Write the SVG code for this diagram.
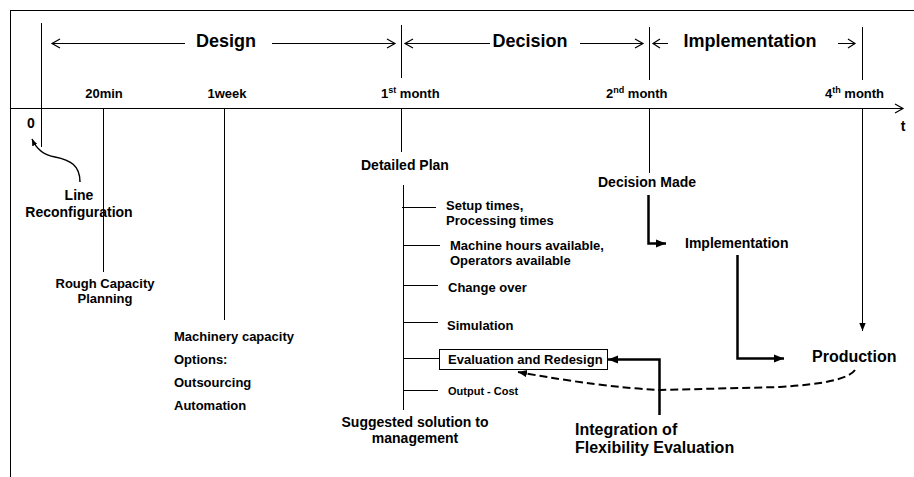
<svg xmlns="http://www.w3.org/2000/svg" width="914" height="477" viewBox="0 0 914 477">
<style>
text{font-family:"Liberation Sans",Arial,sans-serif;font-weight:bold;fill:#000}
.h{font-size:18px}
.s{font-size:13px}
.m{font-size:14px}
.l{font-size:16px}
.thin{stroke:#000;stroke-width:1;fill:none}
.thick{stroke:#000;stroke-width:2.5;fill:none}
.open{stroke:#000;stroke-width:1.2;fill:none}
.sup{font-size:9px}
</style>
<defs>
<marker id="fa" viewBox="0 0 10 10" refX="10" refY="5" markerWidth="4" markerHeight="4" orient="auto" markerUnits="strokeWidth">
<path d="M0,1 L10,5 L0,9 Z" fill="#000"/>
</marker>
<marker id="fa1" viewBox="0 0 10 10" refX="10" refY="5" markerWidth="8" markerHeight="8" orient="auto" markerUnits="strokeWidth">
<path d="M0,1 L10,5 L0,9 Z" fill="#000"/>
</marker>
<marker id="fad" viewBox="0 0 10 10" refX="10" refY="5" markerWidth="4.5" markerHeight="4.5" orient="auto" markerUnits="strokeWidth">
<path d="M0,1 L10,5 L0,9 Z" fill="#000"/>
</marker>
</defs>

<g id="frame">
<line class="thin" x1="10.5" y1="10" x2="10.5" y2="477"/>
<line class="thin" x1="10" y1="10.5" x2="914" y2="10.5"/>
</g>

<g id="timeline">
<line class="thin" x1="10" y1="108.5" x2="903" y2="108.5"/>
<path class="open" d="M895,104 L903,108.5 L895,113"/>
<text class="m" x="903" y="131" text-anchor="middle">t</text>
<text class="m" x="31" y="128" text-anchor="middle">0</text>
<line class="thin" x1="41.5" y1="23" x2="41.5" y2="147"/>
</g>

<g id="phase-design">
<line class="thin" x1="52" y1="43.5" x2="185" y2="43.5"/>
<path class="open" d="M60,39 L52,43.5 L60,48"/>
<text class="h" x="226" y="47" text-anchor="middle">Design</text>
<line class="thin" x1="272" y1="43.5" x2="395" y2="43.5"/>
<path class="open" d="M387,39 L395,43.5 L387,48"/>
<line class="thin" x1="401.5" y1="25" x2="401.5" y2="78"/>
</g>

<g id="phase-decision">
<line class="thin" x1="405" y1="43.5" x2="490" y2="43.5"/>
<path class="open" d="M413,39 L405,43.5 L413,48"/>
<text class="h" x="530" y="47" text-anchor="middle">Decision</text>
<line class="thin" x1="580" y1="43.5" x2="643" y2="43.5"/>
<path class="open" d="M635,39 L643,43.5 L635,48"/>
<line class="thin" x1="649.5" y1="27" x2="649.5" y2="80"/>
</g>

<g id="phase-implementation">
<line class="thin" x1="653" y1="43.5" x2="668" y2="43.5"/>
<path class="open" d="M660,39 L653,43.5 L660,48"/>
<text class="h" x="750" y="47" text-anchor="middle">Implementation</text>
<line class="thin" x1="838" y1="43.5" x2="855" y2="43.5"/>
<path class="open" d="M848,39 L855,43.5 L848,48"/>
<line class="thin" x1="862.5" y1="27" x2="862.5" y2="80"/>
</g>

<g id="tick-20min">
<text class="s" x="104" y="98" text-anchor="middle">20min</text>
<line class="thin" x1="103.5" y1="108" x2="103.5" y2="272"/>
</g>
<g id="tick-1week">
<text class="s" x="227" y="98" text-anchor="middle">1week</text>
<line class="thin" x1="224.5" y1="108" x2="224.5" y2="320"/>
</g>
<g id="tick-1st-month">
<text class="s" x="381" y="98">1<tspan class="sup" dy="-5">st</tspan><tspan dy="5"> month</tspan></text>
<line class="thin" x1="401.5" y1="108" x2="401.5" y2="152"/>
</g>
<g id="tick-2nd-month">
<text class="s" x="606" y="98">2<tspan class="sup" dy="-5">nd</tspan><tspan dy="5"> month</tspan></text>
<line class="thin" x1="649.5" y1="108" x2="649.5" y2="173"/>
</g>
<g id="tick-4th-month">
<text class="s" x="825" y="98">4<tspan class="sup" dy="-5">th</tspan><tspan dy="5"> month</tspan></text>
</g>

<g id="line-reconfiguration">
<text class="m" x="79" y="200" text-anchor="middle">Line</text>
<text class="m" x="79" y="217" text-anchor="middle">Reconfiguration</text>
</g>

<g id="rough-capacity">
<text class="s" x="105" y="288" text-anchor="middle">Rough Capacity</text>
<text class="s" x="105" y="303" text-anchor="middle">Planning</text>
</g>

<g id="machinery">
<text class="s" x="174" y="341">Machinery capacity</text>
<text class="s" x="174" y="364">Options:</text>
<text class="s" x="174" y="387">Outsourcing</text>
<text class="s" x="174" y="410">Automation</text>
</g>

<g id="detailed-plan">
<text class="m" x="361" y="170">Detailed Plan</text>
<line class="thin" x1="403.5" y1="185" x2="403.5" y2="410"/>
</g>

<g id="item-setup">
<line class="thin" x1="402" y1="207.5" x2="436" y2="207.5"/>
<text class="s" x="446" y="210">Setup times,</text>
<text class="s" x="446" y="225">Processing times</text>
</g>
<g id="item-machine-hours">
<line class="thin" x1="404" y1="245.5" x2="440" y2="245.5"/>
<text class="s" x="450" y="250">Machine hours available,</text>
<text class="s" x="450" y="265">Operators available</text>
</g>
<g id="item-changeover">
<line class="thin" x1="404" y1="285.5" x2="438" y2="285.5"/>
<text class="s" x="448" y="292">Change over</text>
</g>
<g id="item-simulation">
<line class="thin" x1="404" y1="322.5" x2="438" y2="322.5"/>
<text class="s" x="447" y="330">Simulation</text>
</g>
<g id="item-evaluation">
<line class="thin" x1="404" y1="358.5" x2="439" y2="358.5"/>
<rect x="439.5" y="349.5" width="168" height="20" fill="#fff" stroke="#000" stroke-width="1"/>
<text class="s" x="448" y="364">Evaluation and Redesign</text>
</g>
<g id="item-output-cost">
<line class="thin" x1="404" y1="390.5" x2="438" y2="390.5"/>
<text x="448" y="395" font-size="11">Output - Cost</text>
</g>

<g id="suggested-solution">
<text class="m" x="415" y="427" text-anchor="middle">Suggested solution to</text>
<text class="m" x="415" y="443" text-anchor="middle">management</text>
</g>

<g id="integration">
<text class="l" x="575" y="435">Integration of</text>
<text class="l" x="575" y="453">Flexibility Evaluation</text>
</g>

<g id="decision-made">
<text class="m" x="598" y="187">Decision Made</text>
</g>

<g id="implementation">
<text class="m" x="685" y="248">Implementation</text>
</g>

<g id="production">
<text class="l" x="812" y="362">Production</text>
</g>

<g id="connectors">
<path class="thin" d="M862.5,108 L862.5,331" marker-end="url(#fa1)"/>
<path class="thick" d="M648.5,195 L648.5,243.5 L666,243.5" marker-end="url(#fa)"/>
<path class="thick" d="M737.5,255 L737.5,358.5 L784,358.5" marker-end="url(#fa)"/>
<path class="thick" d="M659.5,415 L659.5,359.5 L608,359.5" marker-end="url(#fa)"/>
<path d="M855,370 Q846,383 780,387 L660,390 Q600,387 518,372" stroke="#000" stroke-width="2" stroke-dasharray="8,4" fill="none" marker-end="url(#fad)"/>
<path d="M80,182 C80,165 70,160 55,157 C42,155 36,148 32,139" stroke="#000" stroke-width="1.5" fill="none" marker-end="url(#fad)"/>
</g>
</svg>
